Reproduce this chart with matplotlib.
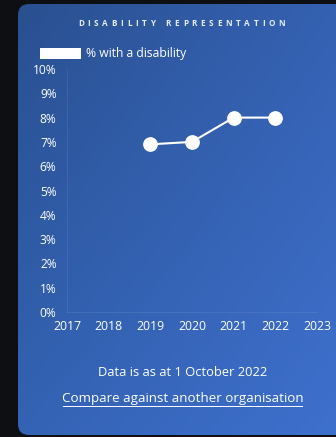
import numpy as np
import matplotlib
matplotlib.use("Agg")
import matplotlib.pyplot as plt
from matplotlib.patches import FancyBboxPatch, Rectangle
from matplotlib.ticker import FuncFormatter

plt.rcParams['font.family'] = ['Open Sans', 'DejaVu Sans']

# Data
years = [2019, 2020, 2021, 2022]
pct_disability = [6.9, 7.0, 8.0, 8.0]
year_ticks = [2017, 2018, 2019, 2020, 2021, 2022, 2023]
pct_ticks = list(range(0, 11))

title = "DISABILITY REPRESENTATION"
series_label = "% with a disability"
footnote = "Data is as at 1 October 2022"
link_text = "Compare against another organisation"

W, H = 336, 437
fig = plt.figure(figsize=(W / 100, H / 100), dpi=100, facecolor="#0e0f12")

# Background card with a diagonal blue gradient
bg = fig.add_axes([0, 0, 1, 1])
bg.set_xlim(0, W)
bg.set_ylim(H, 0)
bg.axis("off")

tl = np.array([0x29, 0x50, 0x90]) / 255
tr = np.array([0x35, 0x61, 0xb2]) / 255
bl = np.array([0x34, 0x63, 0xb5]) / 255
br = np.array([0x3e, 0x70, 0xcd]) / 255
u = np.linspace(0, 1, 200)[None, :, None]
v = np.linspace(0, 1, 260)[:, None, None]
grad = (1 - u) * (1 - v) * tl + u * (1 - v) * tr + (1 - u) * v * bl + u * v * br

card = FancyBboxPatch((18, 4), 340, 431, boxstyle="round,pad=0,rounding_size=11",
                      facecolor="none", edgecolor="none", transform=bg.transData)
bg.add_patch(card)
im = bg.imshow(grad, extent=[18, W, 435, 4], aspect="auto", interpolation="bilinear", zorder=0)
im.set_clip_path(card)

# Letter-spaced title
fig.canvas.draw()
renderer = fig.canvas.get_renderer()
tprops = dict(fontsize=5.9, fontweight="bold", color="#e6edf8")
widths = []
for ch in title:
    t = bg.text(0, 0, ch if ch != " " else "I", **tprops)
    widths.append(t.get_window_extent(renderer).width)
    t.remove()
spacing = 3.7
total = sum(widths) + spacing * (len(title) - 1)
x = 181.5 - total / 2
for ch, w in zip(title, widths):
    if ch != " ":
        bg.text(x, 23, ch, ha="left", va="center", **tprops)
    x += w + spacing

# Legend
bg.add_patch(Rectangle((40, 48), 41, 11, facecolor="white", edgecolor="none"))
bg.text(86, 53, series_label, fontsize=8.7, color="white", ha="left", va="center")

# Footer texts
bg.text(182.5, 373, footnote, fontsize=9.3, color="white", ha="center", va="center")
lt = bg.text(182.5, 398.5, link_text, fontsize=9.6, color="white", ha="center", va="center")
fig.canvas.draw()
ext = lt.get_window_extent(renderer)
bg.plot([ext.x0 + 1, ext.x1 - 1], [405.5, 405.5], color="white", lw=0.7)

# Chart
left, right = 67, 317
top, bottom = 69, 312
ax = fig.add_axes([left / W, 1 - bottom / H, (right - left) / W, (bottom - top) / H])
ax.patch.set_visible(False)
ax.set_xlim(year_ticks[0], year_ticks[-1])
ax.set_ylim(pct_ticks[0], pct_ticks[-1])
ax.set_xticks(year_ticks)
ax.set_yticks(pct_ticks)
ax.yaxis.set_major_formatter(FuncFormatter(lambda v, _: f"{int(v)}%"))
ax.tick_params(length=0, colors="white", labelsize=8.6)
ax.tick_params(axis="y", pad=7.5)
ax.tick_params(axis="x", pad=6.0, labelsize=8.8)
for s in ["top", "right"]:
    ax.spines[s].set_visible(False)
for s in ["left", "bottom"]:
    ax.spines[s].set_color((1, 1, 1, 0.08))
    ax.spines[s].set_linewidth(0.8)

ax.plot(years, pct_disability, color="white", lw=1.5, marker="o", markersize=9.6,
        markerfacecolor="white", markeredgecolor="white", clip_on=False)

fig.savefig("out.png", dpi=100, facecolor=fig.get_facecolor())
